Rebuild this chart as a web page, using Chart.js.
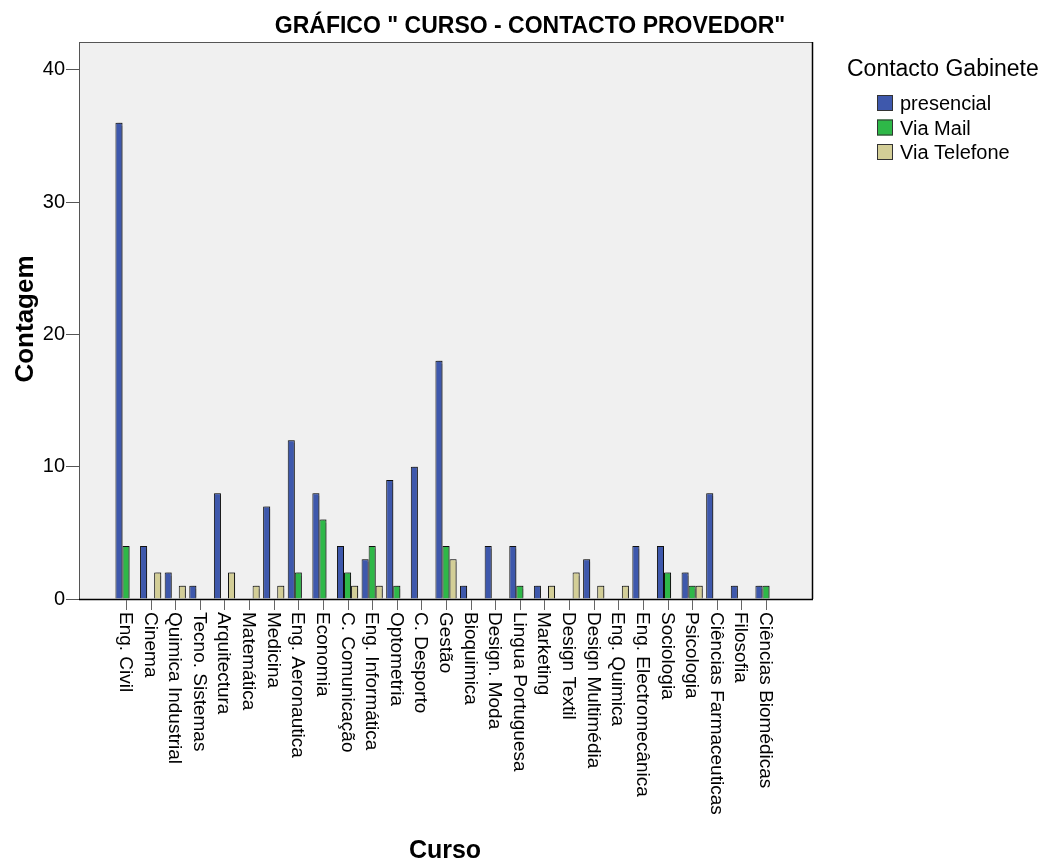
<!DOCTYPE html>
<html>
<head>
<meta charset="utf-8">
<script src="https://cdn.jsdelivr.net/npm/chart.js@4.4.1/dist/chart.umd.min.js"></script>
<style>
  html, body { margin: 0; padding: 0; background: #ffffff; }
  canvas { display: block; }
</style>
</head>
<body>
<canvas id="c" width="1045" height="861"></canvas>
<script>
const chartTitle = 'GRÁFICO " CURSO - CONTACTO PROVEDOR"';
const yTitle = 'Contagem';
const xTitle = 'Curso';
const legendTitle = 'Contacto Gabinete';
const seriesNames = ['presencial', 'Via Mail', 'Via Telefone'];
const seriesColors = ['#3E58AC', '#2EB848', '#D3CE97'];

const categories = [
  'Eng. Civil', 'Cinema', 'Quimica Industrial', 'Tecno. Sistemas', 'Arquitectura',
  'Matemática', 'Medicina', 'Eng. Aeronautica', 'Economia', 'C. Comunicação',
  'Eng. Informática', 'Optometria', 'C. Desporto', 'Gestão', 'Bioquimica',
  'Design. Moda', 'Lingua Portuguesa', 'Marketing', 'Design Textil', 'Design Multimédia',
  'Eng. Quimica', 'Eng. Electromecânica', 'Sociologia', 'Psicologia',
  'Ciências Farmaceuticas', 'Filosofia', 'Ciências Biomédicas'
];
const presencial = [36, 4, 2, 1, 8, null, 7, 12, 8, 4, 3, 9, 10, 18, 1, 4, 4, 1, null, 3, null, 4, 4, 2, 8, 1, 1];
const viaMail = [4, null, null, null, null, null, null, 2, 6, 2, 4, 1, null, 4, null, null, 1, null, null, null, null, null, 2, 1, null, null, 1];
const viaTelefone = [null, 2, 1, null, 2, 1, 1, null, null, 1, 1, null, null, 3, null, null, null, 1, 2, 1, 1, null, null, 1, null, null, null];
const yTicks = [0, 10, 20, 30, 40];

const FONT = '"Liberation Sans", Arial, sans-serif';

function toPoints(arr) {
  return arr.map((v, i) => ({ x: i, y: v }));
}

const seriesData = [presencial, viaMail, viaTelefone];

const decorPlugin = {
  id: 'decor',
  beforeDraw(chart) {
    const { ctx, chartArea: a } = chart;
    ctx.save();
    ctx.fillStyle = '#ffffff';
    ctx.fillRect(0, 0, chart.width, chart.height);
    ctx.fillStyle = '#F0F0F0';
    ctx.fillRect(a.left, a.top, a.right - a.left, a.bottom - a.top);
    ctx.restore();
  },
  beforeDatasetsDraw(chart) {
    const ctx = chart.ctx;
    ctx.save();
    ctx.shadowColor = 'rgba(0,0,0,0.35)';
    ctx.shadowOffsetX = 1.5;
    ctx.shadowOffsetY = -0.5;
    ctx.shadowBlur = 1;
  },
  afterDatasetsDraw(chart) {
    chart.ctx.restore();
  },
  afterDraw(chart) {
    const { ctx, chartArea: a } = chart;
    const xs = chart.scales.x;
    ctx.save();
    // plot frame
    ctx.strokeStyle = '#555555';
    ctx.lineWidth = 1;
    ctx.strokeRect(a.left + 0.5, a.top + 0.5, a.right - a.left - 1, a.bottom - a.top);
    ctx.strokeStyle = '#000000';
    ctx.lineWidth = 1.5;
    ctx.beginPath();
    ctx.moveTo(a.right - 0.5, a.top);
    ctx.lineTo(a.right - 0.5, a.bottom);
    ctx.stroke();
    ctx.beginPath();
    ctx.moveTo(a.left, a.bottom + 0.5);
    ctx.lineTo(a.right, a.bottom + 0.5);
    ctx.stroke();

    // x tick marks and labels
    ctx.fillStyle = '#000000';
    ctx.font = '19px ' + FONT;
    ctx.textAlign = 'left';
    ctx.textBaseline = 'middle';
    categories.forEach((lab, i) => {
      const px = Math.round(xs.getPixelForValue(i)) + 0.5;
      ctx.strokeStyle = '#666666';
      ctx.lineWidth = 1;
      ctx.beginPath();
      ctx.moveTo(px, a.bottom + 1);
      ctx.lineTo(px, a.bottom + 11);
      ctx.stroke();
      ctx.save();
      ctx.translate(px - 1, a.bottom + 13);
      ctx.rotate(Math.PI / 2);
      ctx.fillText(lab, 0, 0);
      ctx.restore();
    });

    // title
    ctx.textBaseline = 'alphabetic';
    ctx.textAlign = 'center';
    ctx.font = 'bold 23px ' + FONT;
    ctx.fillText(chartTitle, 530, 33);

    // axis titles
    ctx.font = 'bold 25px ' + FONT;
    ctx.fillText(xTitle, 445, 858);
    ctx.save();
    ctx.translate(33, 319);
    ctx.rotate(-Math.PI / 2);
    ctx.font = 'bold 26px ' + FONT;
    ctx.fillText(yTitle, 0, 0);
    ctx.restore();

    // legend
    ctx.textAlign = 'left';
    ctx.font = '23px ' + FONT;
    ctx.fillText(legendTitle, 847, 76);
    ctx.font = '20px ' + FONT;
    seriesNames.forEach((n, i) => {
      const top = 95 + i * 24.5;
      ctx.fillStyle = seriesColors[i];
      ctx.fillRect(877, top, 16, 16);
      ctx.strokeStyle = '#333333';
      ctx.lineWidth = 1;
      ctx.strokeRect(877.5, top + 0.5, 15, 15);
      ctx.fillStyle = '#000000';
      ctx.fillText(n, 900, top + 15);
    });
    ctx.restore();
  }
};

new Chart(document.getElementById('c'), {
  type: 'bar',
  data: {
    datasets: seriesNames.map((n, k) => ({
      label: n,
      data: toPoints(seriesData[k]),
      backgroundColor: seriesColors[k],
      borderColor: '#111111',
      borderWidth: 1,
      categoryPercentage: 0.86,
      barPercentage: 1.0
    }))
  },
  options: {
    responsive: false,
    animation: false,
    devicePixelRatio: 1,
    layout: { padding: { top: 42, right: 232, bottom: 0, left: 0 } },
    plugins: {
      legend: { display: false },
      title: { display: false },
      tooltip: { enabled: false }
    },
    scales: {
      x: {
        type: 'linear',
        offset: false,
        min: -1.91,
        max: 27.91,
        afterBuildTicks(scale) {
          scale.ticks = categories.map((c, i) => ({ value: i }));
        },
        ticks: { display: false },
        grid: { display: false, offset: false },
        border: { display: false },
        afterFit(scale) { scale.height = 262; }
      },
      y: {
        min: 0,
        max: 42.1,
        afterBuildTicks(scale) {
          scale.ticks = yTicks.map(v => ({ value: v }));
        },
        ticks: {
          color: '#000000',
          font: { family: FONT, size: 20 },
          padding: 1
        },
        grid: {
          drawOnChartArea: false,
          drawTicks: true,
          tickLength: 13,
          color: '#555555'
        },
        border: { display: true, color: '#555555' },
        afterFit(scale) { scale.width = 79; }
      }
    }
  },
  plugins: [decorPlugin]
});
</script>
</body>
</html>
